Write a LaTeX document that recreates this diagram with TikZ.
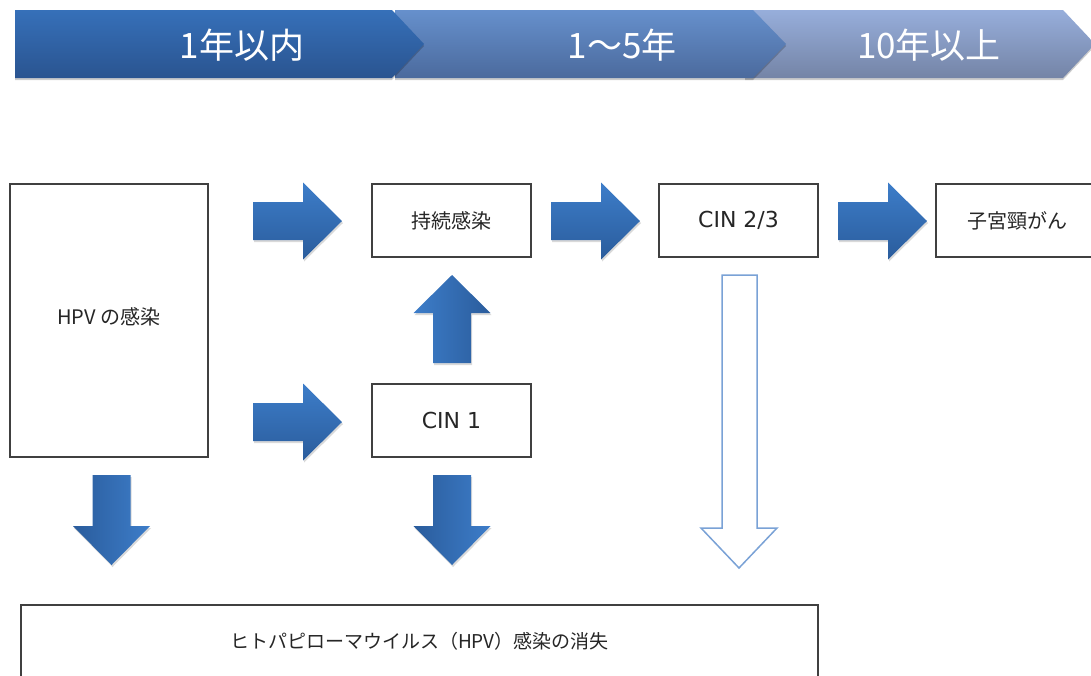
\documentclass[tikz,border=0pt]{standalone}
\usepackage{fontspec}
\newfontfamily\jp{Noto Sans CJK JP}
\newfontfamily\vd{DejaVu Sans}
\usetikzlibrary{shadows}
\definecolor{segAt}{HTML}{3670B9}
\definecolor{segAb}{HTML}{2A5490}
\definecolor{segBt}{HTML}{6690CC}
\definecolor{segBb}{HTML}{4B6A9D}
\definecolor{segCt}{HTML}{97AEDB}
\definecolor{segCb}{HTML}{7484A6}
\definecolor{arrLight}{HTML}{3D7DC9}
\definecolor{arrDark}{HTML}{2A5C9C}
\definecolor{hollowLine}{HTML}{7AA2D6}
\definecolor{boxLine}{HTML}{404040}
\definecolor{txt}{HTML}{262626}
\newcommand\RightBlk[2]{\shade[harrow] (#1,{#2-19}) -- ({#1+50},{#2-19}) -- ({#1+50},{#2-38.5}) -- ({#1+89},#2) -- ({#1+50},{#2+38.5}) -- ({#1+50},{#2+19}) -- (#1,{#2+19}) -- cycle;}
\newcommand\UpBlk[3]{\shade[uarrow] ({#1-19},#3) -- ({#1-19},{#2+38}) -- ({#1-38.5},{#2+38}) -- (#1,#2) -- ({#1+38.5},{#2+38}) -- ({#1+19},{#2+38}) -- ({#1+19},#3) -- cycle;}
\newcommand\DownBlk[3]{\shade[darrow] ({#1-19},#2) -- ({#1+19},#2) -- ({#1+19},{#3-39}) -- ({#1+38.5},{#3-39}) -- (#1,#3) -- ({#1-38.5},{#3-39}) -- ({#1-19},{#3-39}) -- cycle;}
\tikzset{
  segshadow/.style={drop shadow={shadow xshift=0pt,shadow yshift=-2pt,opacity=0.2,fill=black}},
  segA/.style={top color=segAt,bottom color=segAb,segshadow},
  segB/.style={top color=segBt,bottom color=segBb,segshadow},
  segC/.style={top color=segCt,bottom color=segCb,segshadow},
  band/.style={text=white,font=\jp\fontsize{35}{38}\selectfont,inner sep=0pt},
  blkshadow/.style={drop shadow={shadow xshift=1pt,shadow yshift=-2pt,opacity=0.15,fill=black}},
  harrow/.style={top color=arrLight,bottom color=arrDark,blkshadow},
  uarrow/.style={left color=arrLight,right color=arrDark,blkshadow},
  darrow/.style={left color=arrDark,right color=arrLight,blkshadow},
  hollow/.style={draw=hollowLine,line width=1.5pt,fill=white,line join=miter},
  box/.style n args={2}{draw=boxLine,line width=1.5pt,fill=white,text=txt,
    font=\jp\fontsize{20}{24}\selectfont,inner sep=0pt,
    minimum width=#1,minimum height=#2,
    drop shadow={shadow xshift=1pt,shadow yshift=-1pt,opacity=0.15,fill=black}},
  latin/.style={font=\vd\fontsize{22}{24}\selectfont}
}
\begin{document}
\begin{tikzpicture}[x=1pt,y=-1pt]
\useasboundingbox (0,0) rectangle (1091,675);
\clip (0,0) rectangle (1091,675);
% time band
\shade[segC] (745,10) -- (1063,10) -- (1095,44) -- (1063,78) -- (745,78) -- cycle;
\shade[segB] (395,10) -- (753,10) -- (786,44) -- (753,78) -- (395,78) -- cycle;
\shade[segA] (15,10) -- (392,10) -- (424,44) -- (392,78) -- (15,78) -- cycle;
\node[band] (t1) at (242,45) {1年以内};
\node[band] (t2) at (622,45) {1～5年};
\node[band] (t3) at (929,45) {10年以上};
% boxes
\node[box={198pt}{273pt}] (hpv) at (109,320.5) {\raisebox{9pt}{HPV の感染}};
\node[box={159pt}{73pt}] (persist) at (451.5,220.5) {持続感染};
\node[box={159pt}{73pt},latin] (cin1) at (451.5,420.5) {CIN 1};
\node[box={159pt}{73pt},latin] (cin23) at (738.5,220.5) {CIN 2/3};
\node[box={162pt}{73pt}] (cancer) at (1017,220.5) {子宮頸がん};
\node[box={797pt}{72pt},font=\jp\fontsize{19}{24}\selectfont] (clear) at (419.5,641) {ヒトパピローマウイルス（HPV）感染の消失};
% block arrows
\RightBlk{253}{221}
\RightBlk{253}{422}
\RightBlk{551}{221}
\RightBlk{838}{221}
\UpBlk{452}{275}{363}
\DownBlk{111.5}{475}{565}
\DownBlk{452}{475}{565}
\draw[hollow] (722,275) -- (757,275) -- (757,528) -- (777,528) -- (739,568) -- (701,528) -- (722,528) -- cycle;
\end{tikzpicture}
\end{document}
